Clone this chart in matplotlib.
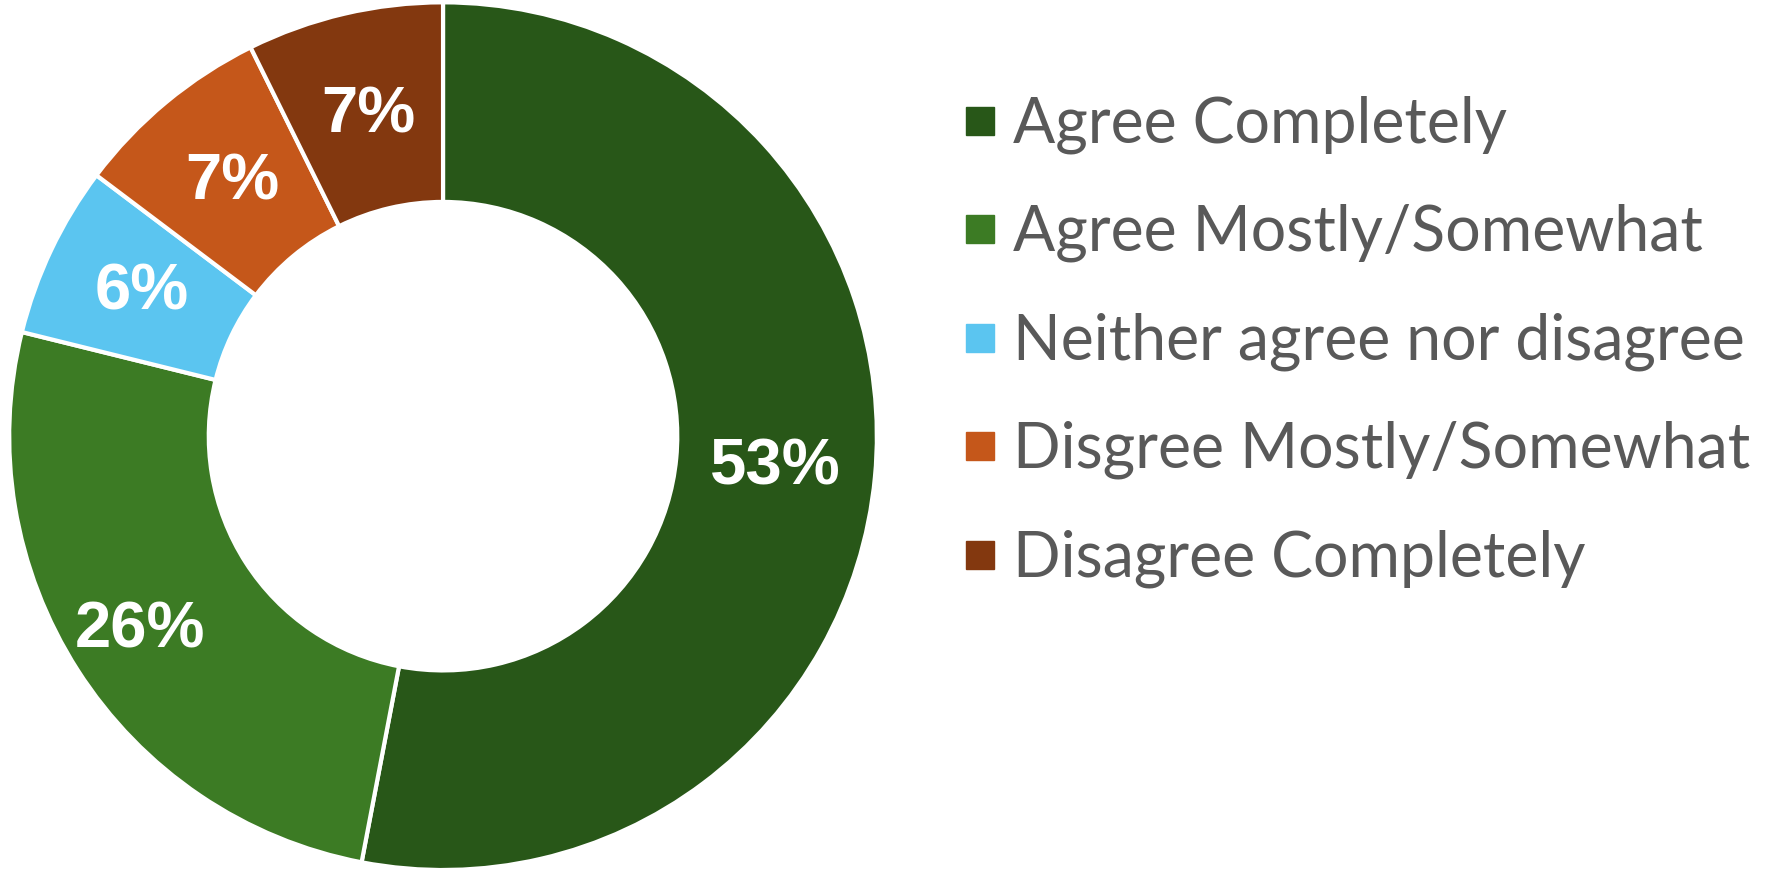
import numpy as np
import matplotlib.pyplot as plt
from matplotlib.lines import Line2D

# survey answers (share of respondents, %)
categories = ['Agree Completely', 'Agree Mostly/Somewhat', 'Neither agree nor disagree',
              'Disgree Mostly/Somewhat', 'Disagree Completely']
shares = [52.9, 25.8, 6.4, 7.4, 7.3]
colors = ['#285718', '#3c7b24', '#5bc5f0', '#c5571a', '#83380f']

fig = plt.figure(figsize=(17.7, 8.72), dpi=100)
ax = fig.add_axes([0.0051, 0.0023, 0.4904, 0.995])

wedges, _ = ax.pie(shares, colors=colors, startangle=90, counterclock=False,
                   radius=1.0,
                   wedgeprops=dict(width=0.46, edgecolor='white', linewidth=3))
ax.set_xlim(-1, 1)
ax.set_ylim(-1, 1)
ax.set_aspect('equal')

# percentage labels in the middle of the ring
label_r = [0.77, 0.83, 0.77, 0.76, 0.76]
for w, s, r in zip(wedges, shares, label_r):
    ang = np.deg2rad((w.theta1 + w.theta2) / 2)
    ax.text(r * np.cos(ang), r * np.sin(ang), f'{round(s)}%',
            ha='center', va='center', color='white', fontsize=47,
            fontweight='bold', family='Liberation Sans')

# legend on the right
handles = [Line2D([0], [0], marker='s', linestyle='none', markersize=20,
                  markerfacecolor=c, markeredgecolor=c) for c in colors]
leg = fig.legend(handles, categories, loc='upper left', bbox_to_anchor=(0.514, 0.955),
                 frameon=False, handlelength=0.45, handletextpad=0.3,
                 labelspacing=0.80, prop=dict(family='Lato', size=45))
for t in leg.get_texts():
    t.set_color('#595959')

fig.savefig('out.png', dpi=100, facecolor='white')
